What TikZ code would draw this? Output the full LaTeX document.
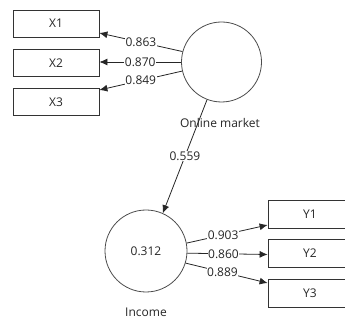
\documentclass[tikz,border=0pt]{standalone}
\usepackage{fontspec}
\setmainfont{Open Sans}
\usetikzlibrary{arrows.meta}
\begin{document}
\begin{tikzpicture}[x=1pt,y=1pt,
  every node/.style={font=\fontsize{12}{14}\selectfont, text=black!85},
  ind/.style={draw=black!80, line width=0.8pt, minimum width=86pt, minimum height=27pt, inner sep=0pt},
  lat/.style={draw=black!70, line width=0.8pt, circle, minimum size=80pt, inner sep=0pt},
  con/.style={draw=black!85, line width=0.8pt, -{Latex[length=8pt,width=7pt]}},
  lab/.style={fill=white, inner sep=0.6pt}
]
\useasboundingbox (0,0) rectangle (345,321);
% indicators
\node[ind] (x1) at (56,297.5) {X1};
\node[ind] (x2) at (56,258) {X2};
\node[ind] (x3) at (56,219) {X3};
\node[ind, minimum width=84pt, minimum height=28pt] (y1) at (310,107) {Y1};
\node[ind, minimum width=84pt, minimum height=28pt] (y2) at (310,67.5) {Y2};
\node[ind, minimum width=84pt, minimum height=28pt] (y3) at (310,28) {Y3};
% latent variables
\node[lat] (om) at (221.5,259) {};
\node[lat, minimum size=82pt] (inc) at (146,70) {0.312};
\node (omlab) at (220,198) {Online market};
\node (inclab) at (146,9) {Income};
% outer loadings
\draw[con] (om.165.5) -- node[lab] {0.863} ([yshift=-9.5pt]x1.east);
\draw[con] (om.180) -- node[lab] {0.870} ([yshift=1pt]x2.east);
\draw[con] (om.193) -- node[lab] {0.849} ([yshift=12pt]x3.east);
\draw[con] (inc.11) -- node[lab, pos=0.45] {0.903} ([yshift=-11pt]y1.west);
\draw[con] (inc.-3) -- node[lab, pos=0.45] {0.860} ([yshift=-1pt]y2.west);
\draw[con] (inc.-17) -- node[lab, pos=0.45] {0.889} ([yshift=10pt]y3.west);
% path
\draw[con] (om.249) -- node[lab] {0.559} (inc.66);
\end{tikzpicture}
\end{document}
